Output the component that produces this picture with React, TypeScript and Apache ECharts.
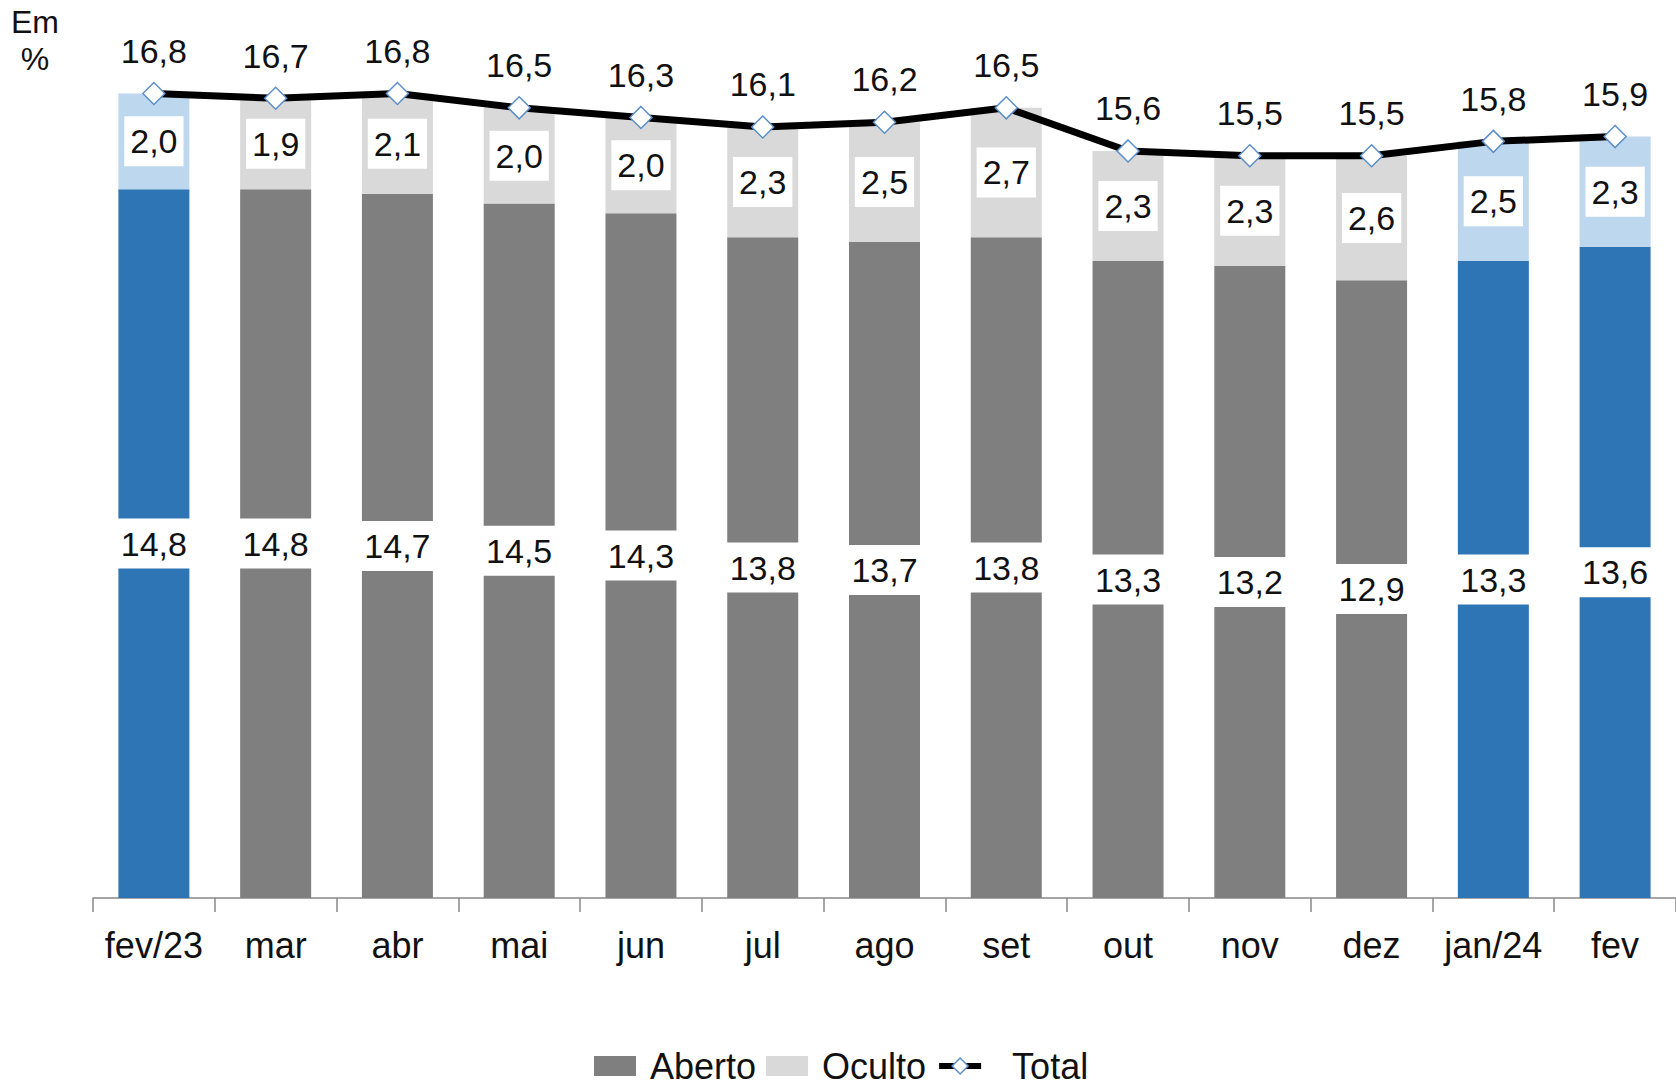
import React, { useEffect, useRef } from "react";
import * as echarts from "echarts";

const categories = ["fev/23", "mar", "abr", "mai", "jun", "jul", "ago", "set", "out", "nov", "dez", "jan/24", "fev"];
const aberto = [14.8, 14.8, 14.7, 14.5, 14.3, 13.8, 13.7, 13.8, 13.3, 13.2, 12.9, 13.3, 13.6];
const oculto = [2.0, 1.9, 2.1, 2.0, 2.0, 2.3, 2.5, 2.7, 2.3, 2.3, 2.6, 2.5, 2.3];
const total = [16.8, 16.7, 16.8, 16.5, 16.3, 16.1, 16.2, 16.5, 15.6, 15.5, 15.5, 15.8, 15.9];
const highlighted = ["fev/23", "jan/24", "fev"];

const FONT = "'Liberation Sans', Arial, sans-serif";
const GRAY = "#7f7f7f";
const LIGHT_GRAY = "#d9d9d9";
const BLUE = "#2e75b6";
const LIGHT_BLUE = "#bdd7ee";
const MARKER_BORDER = "#5b8fc9";

const fmt = (v: number) => v.toFixed(1).replace(".", ",");

export default function App() {
  const ref = useRef<HTMLDivElement>(null);
  useEffect(() => {
    if (!ref.current) return;
    const chart = echarts.init(ref.current, undefined, { renderer: "svg" });
    const isHi = (i: number) => highlighted.includes(categories[i]);
    chart.setOption({
      animation: false,
      backgroundColor: "#ffffff",
      textStyle: { fontFamily: FONT },
      graphic: [
        {
          type: "text",
          x: 35,
          y: 6,
          style: { text: "Em", fontFamily: FONT, fontSize: 32, fill: "#111", align: "center", verticalAlign: "top" },
        },
        {
          type: "text",
          x: 35,
          y: 43,
          style: { text: "%", fontFamily: FONT, fontSize: 32, fill: "#111", align: "center", verticalAlign: "top" },
        },
      ],
      legend: {
        left: 589,
        top: 1043,
        itemWidth: 42,
        itemHeight: 20,
        itemGap: 10,
        textStyle: { fontFamily: FONT, fontSize: 36, lineHeight: 32, color: "#111", padding: [0, 0, 0, 9] },
        data: [
          { name: "Aberto", icon: "rect" },
          { name: "Oculto", icon: "rect" },
          {
            name: "Total",
            itemStyle: { color: "#ffffff", borderColor: MARKER_BORDER, borderWidth: 1.5 },
            lineStyle: { color: "#000000", width: 6 },
            textStyle: { padding: [0, 0, 0, 26] },
          },
        ],
      },
      grid: { left: 93, top: 36, width: 1584, height: 862, containLabel: false },
      xAxis: {
        type: "category",
        data: categories,
        boundaryGap: true,
        axisLine: { show: true, lineStyle: { color: "#888", width: 1.5 } },
        axisTick: { show: true, length: 14, lineStyle: { color: "#888", width: 1.5 } },
        axisLabel: { fontFamily: FONT, fontSize: 36, color: "#111", margin: 29, interval: 0 },
      },
      yAxis: { type: "value", min: 0, max: 18, show: false, splitLine: { show: false } },
      series: [
        {
          name: "Aberto",
          type: "bar",
          stack: "t",
          barWidth: 71,
          color: GRAY,
          data: aberto.map((v, i) => ({ value: v, itemStyle: { color: isHi(i) ? BLUE : GRAY } })),
          label: {
            show: true,
            position: "inside",
            formatter: (p: any) => fmt(p.value),
            fontFamily: FONT,
            fontSize: 34,
            lineHeight: 34,
            color: "#111",
            backgroundColor: "#ffffff",
            padding: [8, 5],
          },
        },
        {
          name: "Oculto",
          type: "bar",
          stack: "t",
          barWidth: 71,
          color: LIGHT_GRAY,
          data: oculto.map((v, i) => ({ value: v, itemStyle: { color: isHi(i) ? LIGHT_BLUE : LIGHT_GRAY } })),
          label: {
            show: true,
            position: "inside",
            formatter: (p: any) => fmt(p.value),
            fontFamily: FONT,
            fontSize: 34,
            lineHeight: 34,
            color: "#111",
            backgroundColor: "#ffffff",
            padding: [8, 6],
          },
        },
        {
          name: "Total",
          type: "line",
          data: total,
          z: 5,
          symbol: "diamond",
          symbolSize: 22,
          color: "#000000",
          itemStyle: { color: "#ffffff", borderColor: MARKER_BORDER, borderWidth: 1.5 },
          lineStyle: { color: "#000000", width: 7 },
          label: {
            show: true,
            position: "top",
            distance: 14,
            formatter: (p: any) => fmt(p.value),
            fontFamily: FONT,
            fontSize: 34,
            lineHeight: 34,
            color: "#111",
          },
        },
      ],
    });
    return () => chart.dispose();
  }, []);
  return (
    <div
      ref={ref}
      style={{ position: "fixed", left: 0, top: 0, width: 1676, height: 1083, background: "#fff" }}
    />
  );
}
